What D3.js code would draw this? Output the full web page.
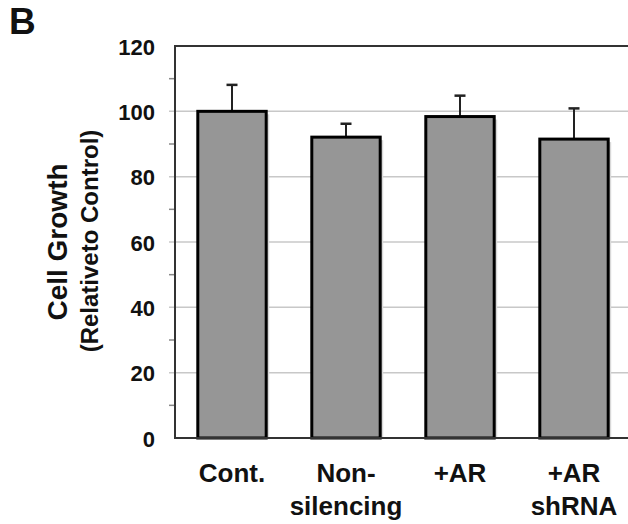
<!DOCTYPE html>
<html>
<head>
<meta charset="utf-8">
<script src="https://cdn.jsdelivr.net/npm/d3@7"></script>
<style>
  body { margin: 0; background: #fff; }
  svg { display: block; font-family: "Liberation Sans", Arial, sans-serif; font-weight: bold; }
</style>
</head>
<body>
<svg></svg>
<script>
var width = 628;
var height = 524;

// data
var groups = ["Cont.", "Non-\nsilencing", "+AR", "+AR\nshRNA"];
var growth = [100, 92.1, 98.4, 91.5];
var errors = [8.1, 4.1, 6.4, 9.4];
var yTicks = [0, 20, 40, 60, 80, 100, 120];
var yMinorTicks = [10, 30, 50, 70, 90, 110];

var plot = { left: 175, right: 631, top: 46, bottom: 438 };

var svg = d3.select("svg")
    .attr("width", width)
    .attr("height", height);

var x = d3.scaleBand()
    .domain(groups)
    .range([plot.left, plot.right])
    .paddingInner(0.4)
    .paddingOuter(0.2);

var y = d3.scaleLinear()
    .domain([0, 120])
    .range([plot.bottom, plot.top]);

// gridlines
svg.append("g")
  .selectAll("line")
  .data(yTicks.filter(d => d > 0 && d < 120))
  .enter()
  .append("line")
    .attr("x1", plot.left - 6)
    .attr("x2", plot.right)
    .attr("y1", d => y(d))
    .attr("y2", d => y(d))
    .attr("stroke", "#c8c8c8")
    .attr("stroke-width", 1.5);

// minor ticks
svg.append("g")
  .selectAll("line")
  .data(yMinorTicks)
  .enter()
  .append("line")
    .attr("x1", plot.left - 6)
    .attr("x2", plot.left)
    .attr("y1", d => y(d))
    .attr("y2", d => y(d))
    .attr("stroke", "#888")
    .attr("stroke-width", 1.5);

// y axis labels
svg.append("g")
  .selectAll("text")
  .data(yTicks)
  .enter()
  .append("text")
    .attr("x", 155)
    .attr("y", d => y(d))
    .attr("dy", "0.4em")
    .attr("text-anchor", "end")
    .style("font-size", "22px")
    .attr("fill", "#111")
    .text(d => d);

// bar shadows
svg.append("g")
  .selectAll("rect")
  .data(growth)
  .enter()
  .append("rect")
    .attr("x", (d, i) => x(groups[i]) + 3)
    .attr("y", d => y(d) + 3)
    .attr("width", x.bandwidth())
    .attr("height", d => y(0) - y(d) - 3)
    .attr("fill", "#d8d8d8");

// error bars
var errG = svg.append("g")
  .selectAll("g")
  .data(growth)
  .enter()
  .append("g");

errG.append("line")
    .attr("x1", (d, i) => x(groups[i]) + x.bandwidth() / 2)
    .attr("x2", (d, i) => x(groups[i]) + x.bandwidth() / 2)
    .attr("y1", d => y(d))
    .attr("y2", (d, i) => y(d + errors[i]))
    .attr("stroke", "#222")
    .attr("stroke-width", 2);

errG.append("line")
    .attr("x1", (d, i) => x(groups[i]) + x.bandwidth() / 2 - 5.5)
    .attr("x2", (d, i) => x(groups[i]) + x.bandwidth() / 2 + 5.5)
    .attr("y1", (d, i) => y(d + errors[i]))
    .attr("y2", (d, i) => y(d + errors[i]))
    .attr("stroke", "#222")
    .attr("stroke-width", 2.5);

// bars
svg.append("g")
  .selectAll("rect")
  .data(growth)
  .enter()
  .append("rect")
    .attr("x", (d, i) => x(groups[i]))
    .attr("y", d => y(d))
    .attr("width", x.bandwidth())
    .attr("height", d => y(0) - y(d))
    .attr("fill", "#969696")
    .attr("stroke", "#000")
    .attr("stroke-width", 3);

// frame: left, top, bottom
svg.append("path")
    .attr("d", `M${plot.right},${plot.top}H${plot.left}V${plot.bottom}H${plot.right}`)
    .attr("fill", "none")
    .attr("stroke", "#333")
    .attr("stroke-width", 2);

// x labels
var xLab = svg.append("g")
  .selectAll("text")
  .data(groups)
  .enter()
  .append("text")
    .attr("text-anchor", "middle")
    .attr("fill", "#111")
    .style("font-size", "26px");

xLab.selectAll("tspan")
  .data(d => d.split("\n").map(t => ({ t: t, g: d })))
  .enter()
  .append("tspan")
    .attr("x", d => x(d.g) + x.bandwidth() / 2)
    .attr("y", (d, i) => 482 + i * 33)
    .text(d => d.t);

// y title
svg.append("text")
    .attr("transform", "translate(67, 242) rotate(-90)")
    .attr("text-anchor", "middle")
    .attr("fill", "#111")
    .style("font-size", "28px")
    .text("Cell Growth");

svg.append("text")
    .attr("transform", "translate(98, 241) rotate(-90)")
    .attr("text-anchor", "middle")
    .attr("fill", "#111")
    .style("font-size", "24px")
    .text("(Relativeto Control)");

// panel letter
svg.append("text")
    .attr("x", 9)
    .attr("y", 34)
    .attr("fill", "#111")
    .style("font-size", "37px")
    .text("B");
</script>
</body>
</html>
